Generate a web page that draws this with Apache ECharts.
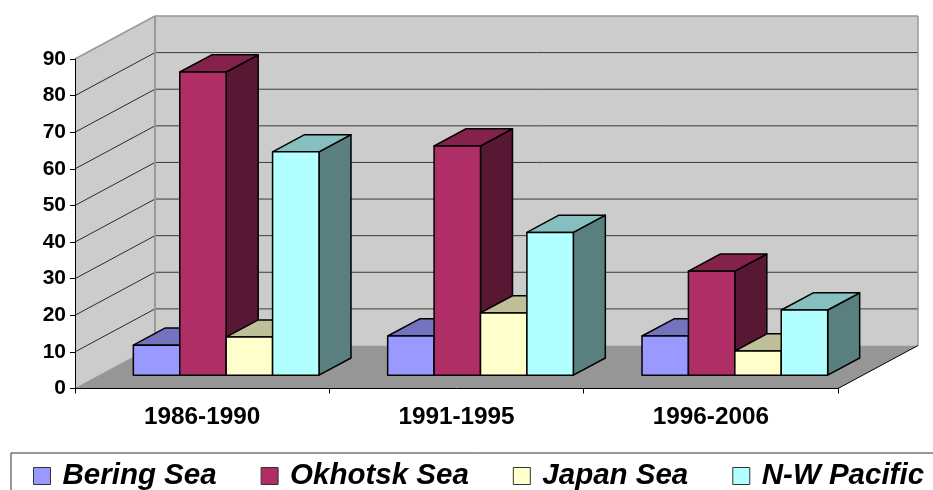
<!DOCTYPE html>
<html>
<head>
    <meta charset="utf-8">
    <title>Sea catch chart</title>
    <script src="https://cdn.jsdelivr.net/npm/echarts@6/dist/echarts.min.js"></script>
    <style>html,body{margin:0;padding:0;background:#fff;overflow:hidden}</style>
</head>
<body>
    <div id="main" style="width:933px;height:490px;"></div>
    <script type="text/javascript">
        // values
        var categories = ['1986-1990', '1991-1995', '1996-2006'];
        var yTicks = [0, 10, 20, 30, 40, 50, 60, 70, 80, 90];
        var beringSea = [8.2, 10.7, 10.7];
        var okhotskSea = [82.8, 62.6, 28.4];
        var japanSea = [10.4, 17, 6.6];
        var nwPacific = [61, 39, 17.8];

        // fake 3d: how far the back wall is shifted from the front plane
        var DX = 80, DY = -43;
        var BAR_FRONT = 0.31, BAR_DEPTH = 0.4, BAR_W = 0.1825;
        var FONT = '"Liberation Sans", Arial, sans-serif';

        function poly(points, fill, stroke, lw) {
            return {
                type: 'polygon',
                shape: { points: points },
                style: { fill: fill, stroke: stroke || 'none', lineWidth: lw || 0, lineJoin: 'round' }
            };
        }
        function line(x1, y1, x2, y2, color, lw) {
            return {
                type: 'line',
                shape: { x1: x1, y1: y1, x2: x2, y2: y2 },
                style: { stroke: color, lineWidth: lw, fill: 'none' }
            };
        }

        function renderWalls(params, api) {
            var g = params.coordSys;
            var l = g.x, r = g.x + g.width, t = g.y, b = g.y + g.height;
            var kids = [
                poly([[l + DX, t + DY], [r + DX, t + DY], [r + DX, b + DY], [l + DX, b + DY]], '#cccccc'),
                poly([[l, b], [l + DX, b + DY], [l + DX, t + DY], [l, t]], '#cccccc'),
                poly([[l, b], [r, b], [r + DX, b + DY], [l + DX, b + DY]], '#969696')
            ];
            yTicks.forEach(function (v) {
                if (v === 0 || v === 90) return;
                var y = api.coord([0, v])[1];
                kids.push(line(l, y, l + DX, y + DY, '#000', 0.8));
                kids.push(line(l + DX, y + DY, r + DX, y + DY, '#3a3a3a', 1));
            });
            kids.push(line(l + DX, t + DY, r + DX, t + DY, '#999', 1.5));
            kids.push(line(l, t, l + DX, t + DY, '#999', 1.5));
            kids.push(line(l + DX, t + DY, l + DX, b + DY, '#999', 2));
            kids.push(line(r + DX, t + DY, r + DX, b + DY, '#999', 1.5));
            kids.push(line(l, b, l + DX, b + DY, '#999', 1));
            kids.push(line(r, b, r + DX, b + DY, '#000', 1));
            return { type: 'group', children: kids };
        }

        function barRenderer(idx, front, top, side) {
            return function (params, api) {
                var cat = api.value(0);
                var base = api.coord([cat, 0]);
                var head = api.coord([cat, api.value(1)]);
                var band = api.size([1, 0])[0];
                var w = band * BAR_W;
                var x0 = base[0] + DX * 0.3 + (idx - 2) * w;
                var x1 = x0 + w;
                var yb = base[1] + DY * BAR_FRONT;
                var yt = head[1] + DY * BAR_FRONT;
                var dx = DX * BAR_DEPTH, dy = DY * BAR_DEPTH;
                return {
                    type: 'group',
                    children: [
                        poly([[x1, yb], [x1 + dx, yb + dy], [x1 + dx, yt + dy], [x1, yt]], side, '#000', 1.5),
                        poly([[x0, yt], [x1, yt], [x1 + dx, yt + dy], [x0 + dx, yt + dy]], top, '#000', 1.5),
                        poly([[x0, yb], [x1, yb], [x1, yt], [x0, yt]], front, '#000', 1.5)
                    ]
                };
            };
        }

        function barSeries(name, values, idx, front, top, side) {
            return {
                name: name,
                type: 'custom',
                coordinateSystem: 'cartesian2d',
                renderItem: barRenderer(idx, front, top, side),
                itemStyle: { color: front },
                encode: { x: 0, y: 1 },
                data: values.map(function (v, i) { return [i, v]; })
            };
        }

        var chart = echarts.init(document.getElementById('main'));
        chart.setOption({
            animation: false,
            backgroundColor: '#fff',
            grid: { left: 75, right: 95, top: 59, bottom: 101.5 },
            legend: {
                left: 11,
                top: 453,
                width: 1100,
                orient: 'horizontal',
                data: ['Bering Sea', 'Okhotsk Sea', 'Japan Sea', 'N-W Pacific'],
                icon: 'rect',
                itemWidth: 17,
                itemHeight: 17,
                itemGap: 44,
                padding: [8, 30, 8, 22],
                borderColor: '#333',
                borderWidth: 1,
                backgroundColor: '#fff',
                itemStyle: { borderColor: '#333', borderWidth: 1 },
                textStyle: {
                    fontFamily: FONT,
                    fontWeight: 'bold',
                    fontStyle: 'italic',
                    fontSize: 29.5,
                    color: '#000',
                    padding: [0, 0, 0, 7]
                }
            },
            xAxis: {
                type: 'category',
                data: categories,
                z: 10,
                axisLine: { lineStyle: { color: '#000', width: 1 } },
                axisTick: { show: true, length: 5, lineStyle: { color: '#000' } },
                axisLabel: {
                    fontFamily: FONT, fontWeight: 'bold', fontSize: 24.3,
                    color: '#000', margin: 17
                },
                splitLine: { show: false }
            },
            yAxis: {
                type: 'value',
                min: 0,
                max: 90,
                interval: 10,
                z: 10,
                axisLine: { show: true, lineStyle: { color: '#000', width: 1 } },
                axisTick: { show: true, length: 5, lineStyle: { color: '#000' } },
                axisLabel: {
                    fontFamily: FONT, fontWeight: 'bold', fontSize: 21,
                    color: '#000', margin: 9
                },
                splitLine: { show: false }
            },
            series: [
                {
                    name: 'walls',
                    type: 'custom',
                    coordinateSystem: 'cartesian2d',
                    renderItem: renderWalls,
                    silent: true,
                    data: [[0, 0]]
                },
                barSeries('Bering Sea', beringSea, 0, '#9999ff', '#7373bf', '#4c4c7f'),
                barSeries('Okhotsk Sea', okhotskSea, 1, '#b02e66', '#84224c', '#581733'),
                barSeries('Japan Sea', japanSea, 2, '#ffffcc', '#bfbf99', '#7f7f66'),
                barSeries('N-W Pacific', nwPacific, 3, '#b2ffff', '#85bfbf', '#597f7f')
            ]
        });
    </script>
</body>
</html>
